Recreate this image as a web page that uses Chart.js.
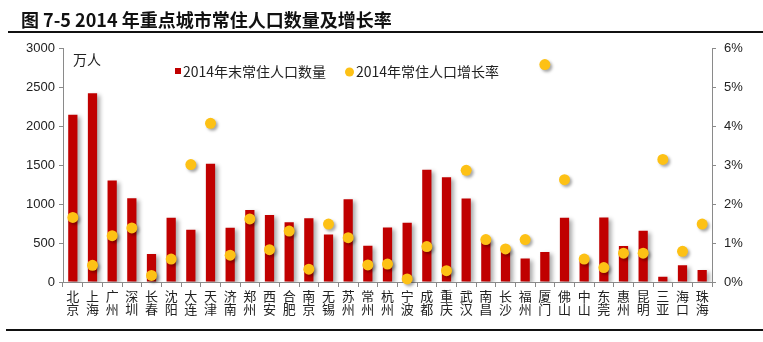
<!DOCTYPE html>
<html>
<head>
<meta charset="utf-8">
<script src="https://cdn.jsdelivr.net/npm/chart.js@4"></script>
<style>
  html, body { margin: 0; padding: 0; background: #ffffff; }
  #wrap { width: 763px; height: 342px; }
</style>
</head>
<body>
<div id="wrap"><canvas id="c" width="763" height="342"></canvas></div>
<script>
// 城市
const cities = ['北京','上海','广州','深圳','长春','沈阳','大连','天津','济南','郑州','西安','合肥','南京','无锡','苏州','常州','杭州','宁波','成都','重庆','武汉','南昌','长沙','福州','厦门','佛山','中山','东莞','惠州','昆明','三亚','海口','珠海'];
// 2014年末常住人口数量（万人）
const population = [2151, 2426, 1306, 1076, 360, 825, 672, 1520, 698, 925, 860, 768, 818, 610, 1064, 466, 702, 763, 1443, 1346, 1072, 535, 420, 302, 386, 825, 300, 830, 462, 658, 68, 214, 155];
// 2014年常住人口增长率（%）
const growth = [1.66, 0.43, 1.19, 1.39, 0.17, 0.59, 3.02, 4.08, 0.69, 1.62, 0.83, 1.31, 0.33, 1.49, 1.14, 0.44, 0.46, 0.08, 0.91, 0.29, 2.87, 1.09, 0.85, 1.09, 5.59, 2.63, 0.59, 0.37, 0.74, 0.74, 3.15, 0.79, 1.49];
// 坐标轴刻度
const popTicks = [0, 500, 1000, 1500, 2000, 2500, 3000];
const rateTicks = [0, 1, 2, 3, 4, 5, 6];

const titleText = '图 7-5 2014 年重点城市常住人口数量及增长率';
const popLabel = '2014年末常住人口数量';
const rateLabel = '2014年常住人口增长率';
const unitText = '万人';

const RED = '#C00000';
const YELLOW = '#FDC115';
const AXIS = '#8a8a8a';
const CJK = '"Noto Sans CJK SC", "Noto Sans", sans-serif';
const LATIN = '"Liberation Sans", Arial, sans-serif';

// 阴影、标题线、图例与单位
const decor = {
  id: 'decor',
  beforeDatasetDraw(chart, args) {
    const ctx = chart.ctx;
    ctx.save();
    if (args.meta.type === 'bar') {
      ctx.shadowColor = 'rgba(0,0,0,0.33)';
      ctx.shadowBlur = 4;
      ctx.shadowOffsetX = 3;
      ctx.shadowOffsetY = 2;
    } else {
      ctx.shadowColor = 'rgba(0,0,0,0.35)';
      ctx.shadowBlur = 3;
      ctx.shadowOffsetX = 2;
      ctx.shadowOffsetY = 2;
    }
  },
  afterDatasetDraw(chart) {
    chart.ctx.restore();
  },
  afterDraw(chart) {
    const ctx = chart.ctx;
    const ds = chart.data.datasets;
    ctx.save();
    // 标题下方与底部的横线
    ctx.strokeStyle = '#111';
    ctx.lineWidth = 2;
    ctx.beginPath();
    ctx.moveTo(8, 32); ctx.lineTo(763, 32);
    ctx.moveTo(6, 330); ctx.lineTo(763, 330);
    ctx.stroke();

    // 单位
    ctx.fillStyle = '#222';
    ctx.font = '14px ' + CJK;
    ctx.textBaseline = 'middle';
    ctx.textAlign = 'left';
    ctx.fillText(unitText, 73, 60);

    // 图例
    const bar = ds.find(d => d.type === 'bar');
    const dot = ds.find(d => d.type === 'line');
    ctx.fillStyle = bar.backgroundColor;
    ctx.fillRect(175, 68, 6, 6);
    ctx.fillStyle = '#222';
    ctx.fillText(bar.label, 183, 72);
    ctx.fillStyle = dot.backgroundColor;
    ctx.beginPath();
    ctx.arc(349.5, 72, 4.5, 0, Math.PI * 2);
    ctx.fill();
    ctx.fillStyle = '#222';
    ctx.fillText(dot.label, 356, 72);
    ctx.restore();
  }
};

new Chart(document.getElementById('c'), {
  data: {
    labels: cities.map(c => c.split('')),
    datasets: [
      {
        type: 'line',
        label: rateLabel,
        data: growth,
        yAxisID: 'y1',
        showLine: false,
        pointRadius: 5.5,
        pointBorderWidth: 0,
        backgroundColor: YELLOW,
        borderColor: YELLOW,
        clip: false,
        order: 0
      },
      {
        type: 'bar',
        label: popLabel,
        data: population,
        yAxisID: 'y',
        backgroundColor: RED,
        borderWidth: 0,
        categoryPercentage: 1,
        barPercentage: 0.47,
        order: 1
      }
    ]
  },
  options: {
    responsive: false,
    animation: false,
    events: [],
    layout: { padding: { left: 21, right: 0, top: 0, bottom: 0 } },
    plugins: {
      legend: { display: false },
      tooltip: { enabled: false },
      title: {
        display: true,
        text: titleText,
        align: 'start',
        color: '#111',
        font: { family: CJK, size: 18, weight: 'bold' },
        padding: { top: 9, bottom: 18 }
      }
    },
    scales: {
      x: {
        type: 'category',
        offset: true,
        border: { display: true, color: AXIS, width: 1 },
        grid: { display: true, offset: true, drawOnChartArea: false, drawTicks: true, tickLength: 5, color: AXIS },
        ticks: {
          autoSkip: false,
          maxRotation: 0,
          minRotation: 0,
          padding: 3,
          color: '#222',
          font: { family: CJK, size: 13, lineHeight: 1.0 }
        },
        afterFit(scale) { scale.height = 60; }
      },
      y: {
        type: 'linear',
        position: 'left',
        min: popTicks[0],
        max: popTicks[popTicks.length - 1],
        afterBuildTicks(scale) { scale.ticks = popTicks.map(v => ({ value: v })); },
        border: { display: true, color: AXIS, width: 1 },
        grid: { drawOnChartArea: false, drawTicks: true, tickLength: 4, color: AXIS },
        ticks: {
          padding: 4,
          color: '#222',
          font: { family: LATIN, size: 13 },
          callback: v => String(v)
        },
        afterFit(scale) { scale.width = 42; }
      },
      y1: {
        type: 'linear',
        position: 'right',
        min: rateTicks[0],
        max: rateTicks[rateTicks.length - 1],
        afterBuildTicks(scale) { scale.ticks = rateTicks.map(v => ({ value: v })); },
        border: { display: true, color: AXIS, width: 1 },
        grid: { drawOnChartArea: false, drawTicks: true, tickLength: 4, color: AXIS },
        ticks: {
          padding: 8,
          color: '#222',
          font: { family: LATIN, size: 13 },
          callback: v => v + '%'
        },
        afterFit(scale) { scale.width = 51; }
      }
    }
  },
  plugins: [decor]
});
</script>
</body>
</html>
